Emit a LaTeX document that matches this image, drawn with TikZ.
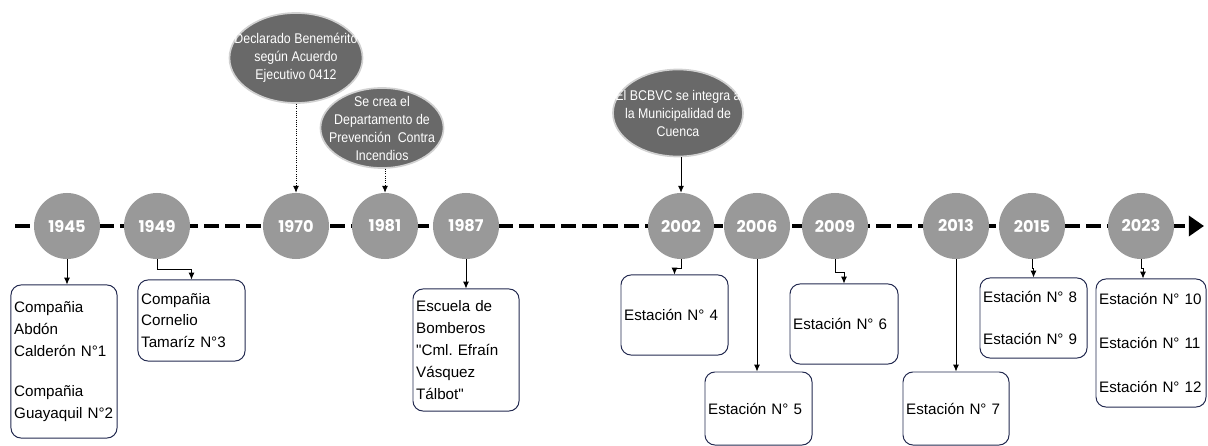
\documentclass[tikz,border=0pt]{standalone}
\usepackage{fontspec}
\setmainfont{Liberation Sans}
\newfontfamily\aniofont{Poppins}
\newfontfamily\hitofont{Liberation Sans}[FakeStretch=0.88]
\usetikzlibrary{arrows.meta,shapes.geometric,positioning}
\definecolor{gris}{RGB}{153,153,153}
\definecolor{grisosc}{RGB}{105,105,105}
\definecolor{marino}{RGB}{35,42,80}
\frenchspacing
\tikzset{
anio/.style={circle, fill=gris, minimum size=1.65cm, inner sep=0pt, text=white,
  font=\aniofont\bfseries\fontsize{11.5}{13}\selectfont},
caja/.style={draw=marino, line width=0.7pt, rounded corners=0.25cm, align=left,
  text width=#1, inner xsep=0.08cm, font=\fontsize{10.8}{15.5}\selectfont},
hito/.style={ellipse, fill=grisosc, draw=black!18, line width=1.2pt, inner sep=0pt},
hitotexto/.style={align=center, text=white, font=\hitofont\fontsize{10}{12.8}\selectfont},
flecha/.style={-{Latex[length=0.17cm,width=0.15cm]}, line width=0.6pt},
}

\begin{document}
\begin{tikzpicture}[x=0.025cm, y=-0.025cm]
\useasboundingbox (0,0) rectangle (1208,446);

\coordinate (inicio) at (15,226);
\coordinate (fin) at (1204,226);
\draw[line width=3.5pt, dash pattern=on 0.375cm off 0.15cm,
  -{Triangle[length=0.38cm,width=0.5cm]}] (inicio) -- (fin);

\foreach \anio/\x in {1945/67, 1949/157, 1970/296, 1981/385, 1987/466, 2002/681,
  2006/757, 2009/835, 2013/956, 2015/1032, 2023/1141}
  \node[anio] (y\anio) at (\x,226) {\anio};

\node[caja=2.49cm, minimum height=3.825cm] (c1945) at (64,361.5)
  {Compañia\\Abdón\\Calderón N°1\\[13pt]Compañia\\Guayaquil N°2};
\node[caja=2.515cm, minimum height=2.025cm] (c1949) at (191.5,320.5)
  {Compañia\\Cornelio\\Tamaríz N°3};
\node[caja=2.49cm, minimum height=3.05cm] (c1987) at (466,350)
  {Escuela de\\Bomberos\\\textquotedbl Cml. Efraín\\Vásquez\\Tálbot\textquotedbl};
\node[caja=2.515cm, minimum height=2cm] (c2002) at (674.5,315) {Estación N° 4};
\node[caja=2.515cm, minimum height=1.825cm] (c2006) at (758.5,408.5) {Estación N° 5};
\node[caja=2.54cm, minimum height=2cm] (c2009) at (844,324) {Estación N° 6};
\node[caja=2.49cm, minimum height=1.825cm] (c2013) at (956,408.5) {Estación N° 7};
\node[caja=2.515cm, minimum height=2cm] (c2015) at (1033.5,318)
  {Estación N° 8\\[15pt]Estación N° 9};
\node[caja=2.59cm, minimum height=3.2cm] (c2023) at (1151,343)
  {Estación N° 10\\[16pt]Estación N° 11\\[16pt]Estación N° 12};

\node[hito, minimum width=3.325cm, minimum height=2.25cm] (declarado) at (296,58) {};
\node[hitotexto] at (declarado) {Declarado Benemérito\\según Acuerdo\\Ejecutivo 0412};
\node[hito, minimum width=3.075cm, minimum height=2cm] (depto) at (382,128) {};
\node[hitotexto] at (depto) {Se crea el\\Departamento de\\Prevención\ \ Contra\\Incendios};
\node[hito, minimum width=3.25cm, minimum height=2.175cm] (bcbvc) at (678,113) {};
\node[hitotexto] at (bcbvc) {El BCBVC se integra a\\la Municipalidad de\\Cuenca};

\draw[flecha, densely dotted] (declarado.south) -- (y1970.north);
\draw[flecha, densely dotted] (y1981.north |- depto.south) -- (y1981.north);
\draw[flecha] (y2002.north |- bcbvc.south) -- (y2002.north);

\draw[flecha] (y1945.south) -- (y1945.south |- c1945.north);
\draw[flecha] (y1949.south) -- ++(0,10) -| (c1949.north);
\draw[flecha] (y1987.south) -- (c1987.north);
\draw[flecha] (y2002.south) -- ++(0,9) -| (c2002.north);
\draw[flecha] (y2006.south) -- (y2006.south |- c2006.north);
\draw[flecha] (y2009.south) -- ++(0,13) -| (c2009.north);
\draw[flecha] (y2013.south) -- (c2013.north);
\draw[flecha] (y2015.south) -- ++(0,9) -| (c2015.north);
\draw[flecha] (y2023.south) -- ++(0,9) -| ([xshift=-0.2cm]c2023.north);
\end{tikzpicture}
\end{document}
